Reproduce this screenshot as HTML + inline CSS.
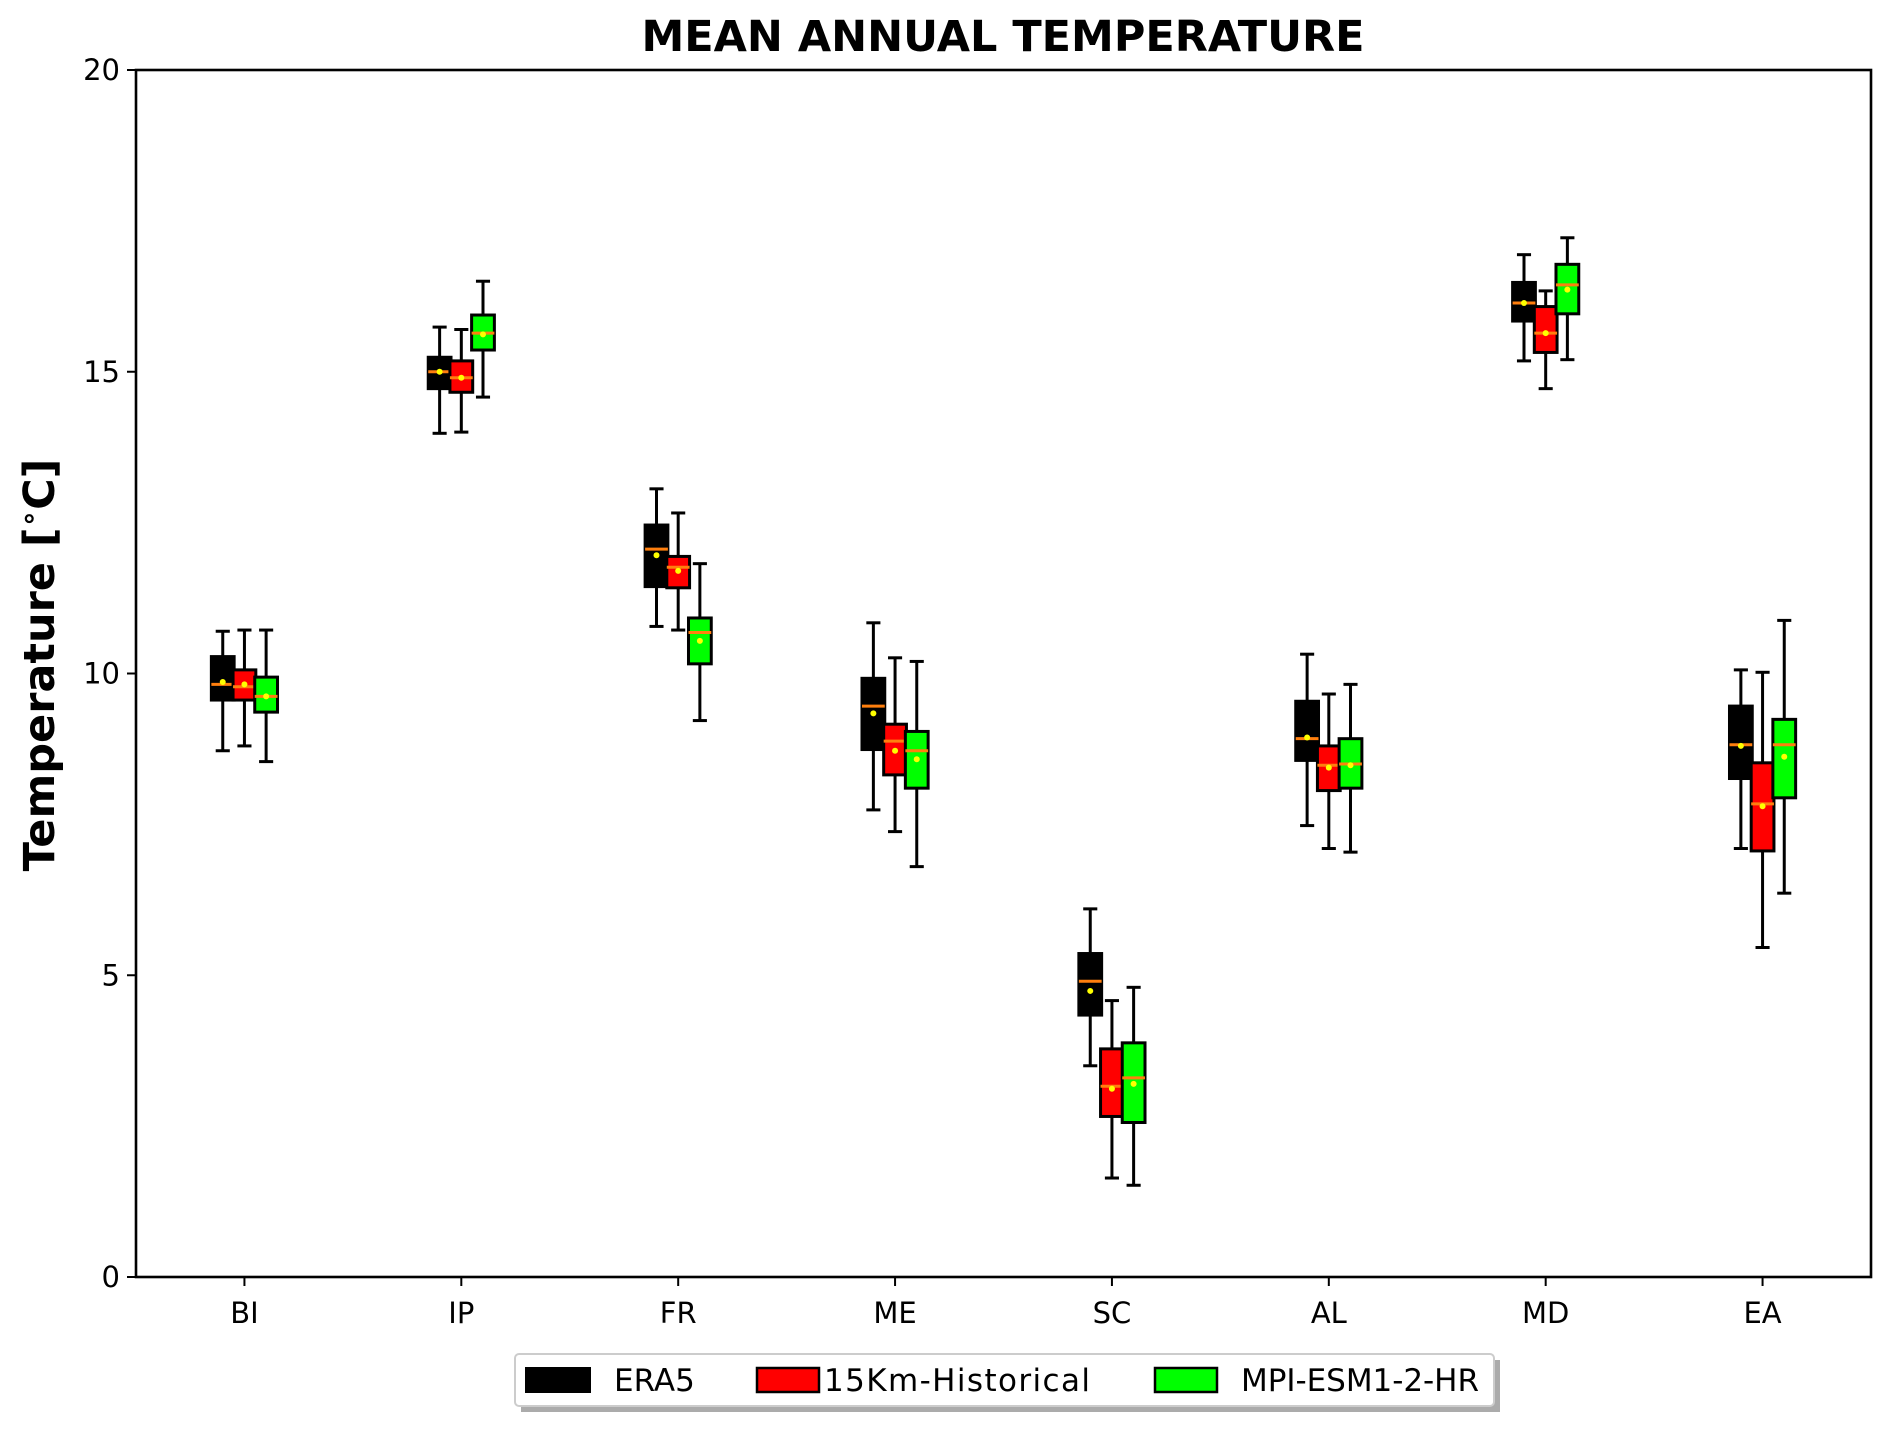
<!DOCTYPE html>
<html><head><meta charset="utf-8"><style>
html,body{margin:0;padding:0;background:#fff;}
svg{display:block;font-family:"DejaVu Sans","Liberation Sans",sans-serif;}
</style></head><body>
<svg id="chart" width="1892" height="1435" viewBox="0 0 1892 1435" xmlns="http://www.w3.org/2000/svg">
<text x="1003" y="51" text-anchor="middle" font-size="43" font-weight="bold">MEAN ANNUAL TEMPERATURE</text>
<text transform="translate(54,665) rotate(-90)" text-anchor="middle" font-size="43" font-weight="bold">Temperature [<tspan font-size="28" dy="-16">∘</tspan><tspan dy="16">C]</tspan></text>
<g id="plot"></g>
<rect x="136" y="70" width="1735" height="1207" fill="none" stroke="#000" stroke-width="2.6"/>
<g>
<rect x="521" y="1360" width="979" height="52" fill="#888" opacity="0.7"/>
<rect x="515" y="1354" width="979" height="52" rx="4" fill="#fff" stroke="#ccc" stroke-width="2"/>
<g><rect x="526" y="1368" width="64" height="24" fill="#000" stroke="#000" stroke-width="2"/><text x="614" y="1391" font-size="31">ERA5</text></g>
<g><rect x="757" y="1368" width="62" height="24" fill="#f00" stroke="#000" stroke-width="2.5"/><text x="824" y="1391" font-size="31" textLength="266">15Km-Historical</text></g>
<g><rect x="1155" y="1368" width="62" height="24" fill="#0f0" stroke="#000" stroke-width="2.5"/><text x="1241" y="1391" font-size="31" textLength="238">MPI-ESM1-2-HR</text></g>
</g>
</svg>
<script>
const categories = ["BI","IP","FR","ME","SC","AL","MD","EA"];
const seriesNames = ["ERA5","15Km-Historical","MPI-ESM1-2-HR"];
const seriesColors = ["#000000","#ff0000","#00ff00"];
const yTicks = [0,5,10,15,20];
// [whiskerLow, q1, median, q3, whiskerHigh, mean] per category
const era5 = [
 [8.72,9.56,9.82,10.28,10.7,9.86],[13.98,14.72,15.0,15.24,15.74,15.0],[10.78,11.44,12.06,12.46,13.06,11.96],
 [7.74,8.74,9.46,9.92,10.84,9.34],[3.5,4.34,4.9,5.36,6.1,4.74],[7.48,8.56,8.92,9.54,10.32,8.94],
 [15.18,15.84,16.14,16.48,16.94,16.14],[7.1,8.26,8.82,9.46,10.06,8.8]];
const hist15km = [
 [8.8,9.56,9.78,10.06,10.72,9.82],[14.0,14.66,14.9,15.18,15.7,14.9],[10.72,11.42,11.76,11.94,12.66,11.7],
 [7.38,8.32,8.88,9.16,10.26,8.72],[1.64,2.66,3.16,3.78,4.58,3.12],[7.1,8.06,8.48,8.8,9.66,8.44],
 [14.72,15.32,15.64,16.08,16.34,15.64],[5.46,7.06,7.84,8.52,10.02,7.8]];
const mpiEsm = [
 [8.54,9.36,9.62,9.94,10.72,9.62],[14.58,15.36,15.64,15.94,16.5,15.62],[9.22,10.16,10.68,10.92,11.82,10.54],
 [6.8,8.1,8.72,9.04,10.2,8.58],[1.52,2.56,3.3,3.88,4.8,3.2],[7.04,8.1,8.5,8.92,9.82,8.48],
 [15.2,15.96,16.44,16.78,17.22,16.36],[6.36,7.94,8.82,9.24,10.88,8.62]];
const allSeries = [era5, hist15km, mpiEsm];

const NS="http://www.w3.org/2000/svg";
const X0=136,X1=1871,Y0=1277,Y1=70;
const xScale = i => X0 + (i+0.5)*(X1-X0)/categories.length;
const yScale = v => Y0 - (v-0)/(20-0)*(Y0-Y1);
const unit = (X1-X0)/categories.length;
const plot=document.getElementById('plot');
function mk(tag,attrs,parent){const e=document.createElementNS(NS,tag);for(const k in attrs)e.setAttribute(k,attrs[k]);(parent||plot).appendChild(e);return e;}

yTicks.forEach(t=>{
  const g=mk('g',{});
  
  
  mk('line',{x1:X0-9,x2:X0,y1:yScale(t),y2:yScale(t),stroke:'#000','stroke-width':2},g);
  const tx=mk('text',{x:X0-16,y:yScale(t)+10,'text-anchor':'end','font-size':29},g);
  tx.textContent=t;
});
categories.forEach((c,i)=>{
  const g=mk('g',{});
  
  
  mk('line',{x1:xScale(i),x2:xScale(i),y1:Y0,y2:Y0+9,stroke:'#000','stroke-width':2},g);
  const tx=mk('text',{x:xScale(i),y:Y0+46,'text-anchor':'middle','font-size':29},g);
  tx.textContent=c;
});
const offs=[-0.1,0,0.1], bw=0.105*unit, cw=0.065*unit;
allSeries.forEach((ser,s)=>{
  ser.forEach((d,i)=>{
    const cx=xScale(i)+offs[s]*unit;
    const g=mk('g',{});
    
    
    const [wl,q1,md,q3,wh,mn]=d;
    mk('line',{x1:cx,x2:cx,y1:yScale(wh),y2:yScale(q3),stroke:'#000','stroke-width':3},g);
    mk('line',{x1:cx,x2:cx,y1:yScale(q1),y2:yScale(wl),stroke:'#000','stroke-width':3},g);
    mk('line',{x1:cx-cw/2,x2:cx+cw/2,y1:yScale(wh),y2:yScale(wh),stroke:'#000','stroke-width':3},g);
    mk('line',{x1:cx-cw/2,x2:cx+cw/2,y1:yScale(wl),y2:yScale(wl),stroke:'#000','stroke-width':3},g);
    mk('rect',{x:cx-bw/2,y:yScale(q3),width:bw,height:yScale(q1)-yScale(q3),fill:seriesColors[s],stroke:'#000','stroke-width':3},g);
    mk('line',{x1:cx-bw/2,x2:cx+bw/2,y1:yScale(md),y2:yScale(md),stroke:'#ff7f0e','stroke-width':3},g);
    mk('circle',{cx:cx,cy:yScale(mn),r:3,fill:'#ffff00'},g);
  });
});
</script>
</body></html>
